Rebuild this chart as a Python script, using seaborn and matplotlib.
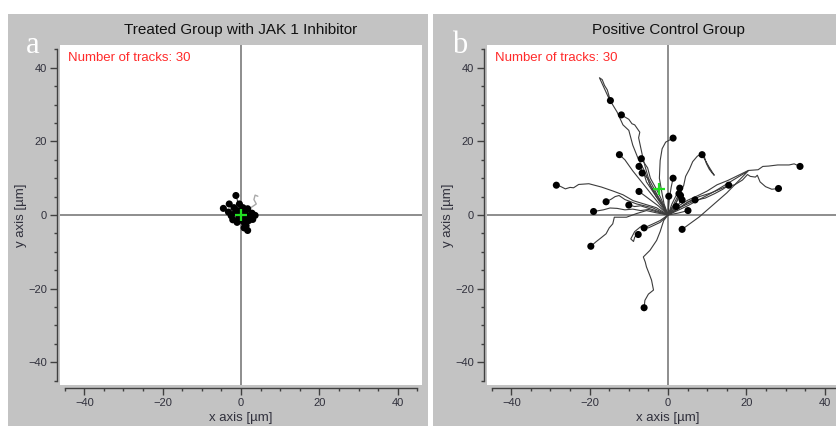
import numpy as np
import pandas as pd
import matplotlib
matplotlib.use("Agg")
import matplotlib.pyplot as plt
from matplotlib.patches import Rectangle
from matplotlib.ticker import MultipleLocator
import seaborn as sns

sns.set_theme(style="white")
plt.rcParams["font.family"] = ["Liberation Sans", "DejaVu Sans"]

# Panel a: treated group, every track starts at the origin (waypoints, last = end point)
tracks_a = [
    [(-1.2, 0.8), (-2.6, 1.1), (-4.5, 1.8)],
    [(-1.5, 1.2), (-3.0, 3.0)],
    [(-0.5, 2.5), (-1.3, 5.3)],
    [(-0.2, 1.5), (-0.4, 3.0)],
    [(-1.0, -0.5), (-2.1, -1.3)],
    [(0.9, 0.7), (1.7, 1.7)],
    [(1.8, 0.2), (3.6, -0.1)],
    [(1.3, -0.4), (2.6, -0.6)],
    [(0.6, -1.5), (1.3, -2.9)],
    [(0.9, -2.0), (1.7, -4.2)],
    [(-0.4, 0.5), (-0.9, 1.2)],
    [(0.2, -0.7), (0.3, -1.5)],
    [(-0.8, 0.2), (-1.5, 0.5)],
    [(0.5, 0.3), (1.0, 0.8)],
    [(1.0, -0.8), (2.0, -1.5)],
    [(-0.3, -0.4), (-0.5, -0.8)],
    [(0.4, -1.8), (0.8, -3.5)],
    [(-1.2, 0.0), (-2.5, -0.2)],
    [(0.3, 1.0), (0.5, 2.0)],
    [(0.8, -0.2), (1.5, -0.5)],
    [(-0.5, -1.0), (-1.0, -2.0)],
    [(1.4, 0.3), (2.8, 0.5)],
    [(-0.1, -0.2), (-0.2, -0.3)],
    [(0.5, -1.1), (0.9, -2.2)],
    [(-0.9, 1.0), (-1.8, 2.0)],
    [(1.5, -0.6), (3.0, -1.2)],
    [(0.1, 0.5), (0.2, 1.0)],
    [(-1.6, 0.4), (-3.2, 0.8)],
    [(0.6, 0.1), (1.2, 0.2)],
    [(0.3, -0.5), (0.6, -0.9)],
]
faint_a_x = [0.0, 1.5, 2.8, 3.9, 3.3, 3.6, 4.3]
faint_a_y = [0.0, 1.0, 2.2, 3.0, 4.2, 5.4, 5.1]
center_a = (0.1, -0.1)

# Panel b: positive control group
tracks_b = [
    [(-1.5, 3), (-3, 5), (-4.5, 8), (-6, 12), (-7.5, 15), (-9, 19), (-9.5, 21), (-10, 23), (-11.5, 24.5),
     (-13, 28), (-15, 31.5), (-17.5, 37.3), (-16.8, 36.8), (-16.2, 35.2), (-15.5, 34), (-14.7, 31.1)],
    [(-2, 4), (-3.5, 7), (-5, 10), (-5.8, 13), (-6.5, 16), (-7.5, 21), (-7.2, 22.5), (-8.5, 24.5),
     (-9.2, 24.8), (-10, 26), (-11.9, 27.2)],
    [(-1, 3), (-1.5, 5.7), (-2.2, 10), (-2, 14.8), (-1.5, 18), (-0.6, 19.8), (1.3, 20.9)],
    [(-3, 4), (-6, 8), (-9, 12), (-11, 15), (-12.4, 16.4)],
    [(-2, 5), (-3.2, 7.5), (-4.5, 10), (-5.2, 12.8), (-6.8, 15.3)],
    [(-3, 5), (-5.5, 9), (-6.2, 11.5), (-7.4, 13.2)],
    [(-2, 4), (-4.5, 8), (-5.2, 10), (-6.6, 11.4)],
    [(1, 2), (2, 3), (3, 6), (4, 8), (4.5, 10.5), (5.5, 12.5), (6.3, 14.5), (7.5, 16), (9, 16.8), (9.8, 14),
     (10.5, 12.5), (11.2, 11.5), (11.8, 10.8), (10.5, 13), (8.7, 16.4)],
    [(2, 2), (5, 4), (7.5, 5.2), (10, 6.5), (12.5, 8.2), (15.3, 9.4), (18, 10.8), (20.5, 12.1), (23, 12.3),
     (24.2, 13.2), (25.7, 13.3), (28, 13.6), (30.9, 13.6), (32.2, 13.9), (33.7, 13.2)],
    [(3, 2), (5.5, 3.8), (8, 5), (11, 6), (14.5, 7.6), (17, 8.2), (19, 9.5), (20.3, 11), (21, 10.5),
     (22.3, 10.3), (22.8, 10.8), (23.5, 9), (24.9, 7.7), (26.5, 7), (28.2, 7.2)],
    [(3, 2), (7, 4), (9.5, 4.6), (11.9, 5.8), (14, 7), (15.5, 8.1)],
    [(0.3, 4), (0.8, 7.5), (1.3, 10.0)],
    [(-3, 2), (-5.5, 2.8), (-8.9, 3.9), (-11.5, 5.5), (-14, 6.5), (-17, 7.6), (-20.2, 8.5), (-22.8, 8.3),
     (-24.1, 7.4), (-25, 7.5), (-26.2, 7.1), (-27.5, 7.8), (-28.5, 8.1)],
    [(-4, 2), (-8, 3), (-11, 4.2), (-12.5, 5.3), (-13.5, 5), (-14.5, 4.3), (-15.8, 3.6)],
    [(-5, 1.5), (-7, 1.2), (-9, 1.6), (-11, 1.4), (-13, 1.8), (-14.8, 1.9), (-16.5, 1.4), (-19.0, 0.95)],
    [(-4, 1.5), (-7, 2.5), (-8.5, 2.3), (-10, 2.7)],
    [(-2.5, 2.5), (-5, 4.5), (-7.4, 6.4)],
    [(1, 3), (3, 7.3)],
    [(0.2, 5.1)],
    [(1.5, 3), (2.8, 5.8)],
    [(2, 2), (3.6, 4.1)],
    [(3, 2), (5, 3.5), (6.9, 4.1)],
    [(1, 1.5), (2.1, 2.3)],
    [(2.5, 0.5), (5.1, 1.2)],
    [(5, 2.5), (12, 6.5), (20.5, 12), (15, 6), (8, -0.5), (3.6, -3.9)],
    [(-2, -1.5), (-4, -2.5), (-6.1, -3.5)],
    [(-2, -2), (-5, -3.5), (-7, -3.2), (-8.5, -4.5), (-9.5, -6.5), (-8.8, -7.2), (-8.5, -6), (-7.6, -5.3)],
    [(-3, 0.6), (-5.5, 1.2), (-8, 0.4), (-10.6, -0.6), (-13.7, -0.6), (-14.1, -2.4), (-15, -3.5),
     (-15.8, -5.1), (-17.2, -6.3), (-18.4, -7.3), (-19.7, -8.5)],
    [(-1.1, -1.5), (-2, -4.5), (-2.9, -6.9), (-4.6, -9.6), (-6.3, -11.4), (-5.8, -12.8), (-5.5, -14.1),
     (-4.8, -16), (-4.2, -17.7), (-3.7, -20.4), (-5.0, -21.5), (-5.9, -23.2), (-6.1, -25.2)],
    [(1.5, 2.5), (3.2, 5.3)],
]
center_b = (-2.2, 7.1)

titles = ["Treated Group with JAK 1 Inhibitor", "Positive Control Group"]
letters = ["a", "b"]
n_tracks = [30, 30]

W, H = 836, 426
grey = "#c3c3c3"
txt = "#30303c"


def to_frame(tracks):
    rows = []
    for i, pts in enumerate(tracks):
        rows.append((i, 0, 0.0, 0.0))
        for j, (x, y) in enumerate(pts):
            rows.append((i, j + 1, x, y))
    return pd.DataFrame(rows, columns=["track", "step", "x", "y"])


fig = plt.figure(figsize=(W / 100, H / 100), dpi=100)
fig.patch.set_facecolor("white")
fig.patches.append(Rectangle((8 / W, 0), 420 / W, 412 / H, transform=fig.transFigure,
                             facecolor=grey, edgecolor="none", zorder=-5))
fig.patches.append(Rectangle((433 / W, 0), 403 / W, 412 / H, transform=fig.transFigure,
                             facecolor=grey, edgecolor="none", zorder=-5))

panels = [(60, tracks_a, center_a), (487, tracks_b, center_b)]
for k, (left_px, tracks, center) in enumerate(panels):
    ax = fig.add_axes([left_px / W, 41 / H, 362 / W, 340 / H])
    ax.set_facecolor("white")
    df = to_frame(tracks)
    ends = df.loc[df.groupby("track")["step"].idxmax()]

    ax.axhline(0, color="#7a7a7a", lw=1.2, zorder=1)
    ax.axvline(0, color="#7a7a7a", lw=1.2, zorder=1)
    if k == 0:
        ax.plot(faint_a_x, faint_a_y, color="#a8a8a8", lw=1.0, zorder=2)
    sns.lineplot(data=df, x="x", y="y", units="track", estimator=None, sort=False,
                 color="#3c3c3c", lw=0.8, ax=ax, zorder=2)
    sns.scatterplot(data=ends, x="x", y="y", color="black", s=26, edgecolor="none",
                    ax=ax, zorder=3)
    ax.plot([center[0]], [center[1]], marker="+", color="#22dd22", ms=9, mew=1.6, zorder=4)

    ax.set_xlim(-46.2, 46.2)
    ax.set_ylim(-46.2, 46.2)
    ax.xaxis.set_major_locator(MultipleLocator(20))
    ax.yaxis.set_major_locator(MultipleLocator(20))
    ax.xaxis.set_minor_locator(MultipleLocator(5))
    ax.yaxis.set_minor_locator(MultipleLocator(5))
    for side in ["top", "right"]:
        ax.spines[side].set_visible(False)
    for side in ["left", "bottom"]:
        ax.spines[side].set_visible(True)
        ax.spines[side].set_color("#404040")
        ax.spines[side].set_linewidth(1.0)
        ax.spines[side].set_position(("outward", 2.5))
        ax.spines[side].set_bounds(-45, 45)
    ax.tick_params(which="major", direction="out", length=5, width=1, color="#404040",
                   labelsize=8, labelcolor=txt, pad=2, left=True, bottom=True)
    ax.tick_params(which="minor", direction="out", length=2.5, width=1, color="#404040",
                   left=True, bottom=True)

    ax.set_xlabel("x axis [µm]", fontsize=9.5, color=txt, labelpad=2.5)
    ax.set_ylabel("y axis [µm]", fontsize=9.5, color=txt, labelpad=0.5)
    ax.text(0.5, 1 + 15 / 340, titles[k], transform=ax.transAxes, ha="center",
            va="center", fontsize=11, color="#111111")
    ax.text(0.022, 0.962, f"Number of tracks: {n_tracks[k]}", transform=ax.transAxes,
            ha="left", va="center", color="#ff2a2a", fontsize=9.5)
    ax.text(-27 / 362, 1 - 8 / 340, letters[k], transform=ax.transAxes, ha="center",
            va="baseline", color="white", fontsize=22, family="Liberation Serif")

fig.savefig("out.png", dpi=100)
